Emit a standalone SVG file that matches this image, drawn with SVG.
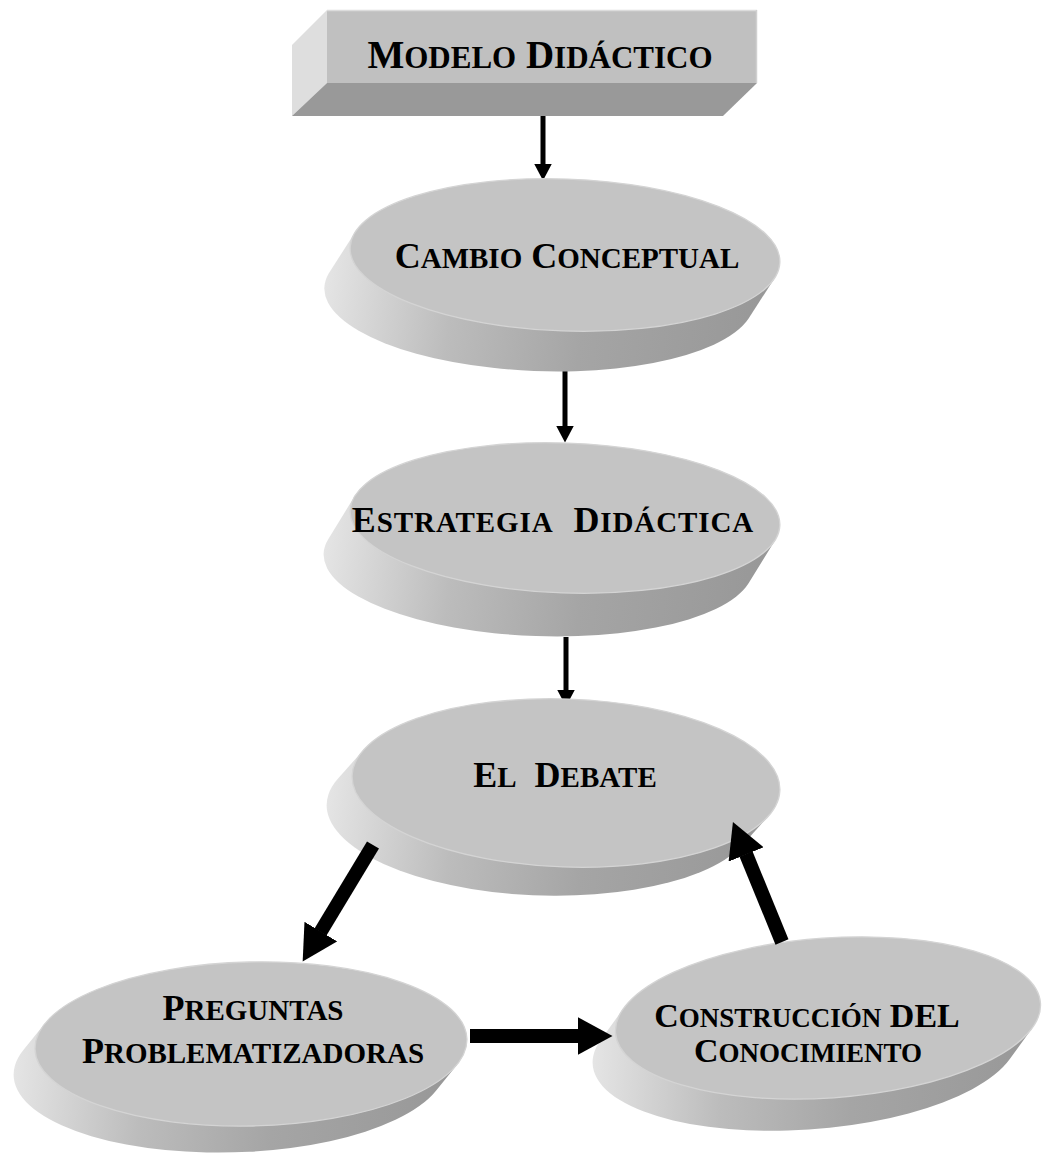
<svg xmlns="http://www.w3.org/2000/svg" width="1048" height="1154" viewBox="0 0 1048 1154">
<style>
.lbl{font-family:"Liberation Serif","Times New Roman",serif;font-weight:bold;font-size:36px;fill:#000;text-anchor:middle}
.s{font-size:29px}
.top{fill:#c4c4c4;stroke:#d4d4d4;stroke-width:1.3}
.ext{fill:url(#extG)}
.thin{stroke:#000;stroke-width:5;fill:none;marker-end:url(#headThin)}
.thick{stroke:#000;stroke-width:14;fill:none;marker-end:url(#headThick)}
</style>
<defs>
<linearGradient id="extG" gradientUnits="userSpaceOnUse" x1="-240" y1="0" x2="200" y2="40">
<stop offset="0" stop-color="#e6e6e6"/>
<stop offset="0.3" stop-color="#bcbcbc"/>
<stop offset="0.6" stop-color="#a5a5a5"/>
<stop offset="1" stop-color="#989898"/>
</linearGradient>
<marker id="headThin" markerUnits="userSpaceOnUse" markerWidth="18" markerHeight="18" refX="0.5" refY="9" orient="auto">
<path d="M0,0 L17,9 L0,18 Z" fill="#000"/>
</marker>
<marker id="headThick" markerUnits="userSpaceOnUse" markerWidth="36" markerHeight="38" refX="0.5" refY="19" orient="auto">
<path d="M0,0 L35,19 L0,38 Z" fill="#000"/>
</marker>
</defs>
<rect width="1048" height="1154" fill="#fff"/>

<g id="connectors">
<line class="thin" x1="543" y1="109" x2="543" y2="164"/>
<line class="thin" x1="565" y1="370" x2="565" y2="426"/>
<line class="thin" x1="566" y1="637" x2="566" y2="690"/>
</g>

<g id="n-modelo">
<polygon points="327,10 292,45 292,116 327,83" fill="#dedede"/>
<polygon points="327,83 757,83 723,116 292,116" fill="#999999"/>
<rect x="327" y="10" width="430" height="73" fill="#c0c0c0"/>
<line x1="327" y1="10.5" x2="757" y2="10.5" stroke="#dcdcdc" stroke-width="1.5"/>
<line x1="756.5" y1="10" x2="756.5" y2="83" stroke="#d0d0d0" stroke-width="1.5"/>
<text class="lbl" x="540" y="68" style="font-size:39px"><tspan>M</tspan><tspan style="font-size:31px">ODELO</tspan> <tspan>D</tspan><tspan style="font-size:31px">IDÁCTICO</tspan></text>
</g>

<g id="n-cambio">
<g transform="translate(565,255) rotate(2)">
<path class="ext" d="M-210.4,-15.6 L-235.4,26.4 A215 76 0 0 0 185.4,57.6 L210.4,15.6 Z"/>
<ellipse class="top" rx="215" ry="76"/>
</g>
<text class="lbl" x="567" y="268"><tspan>C</tspan><tspan class="s">AMBIO</tspan> <tspan>C</tspan><tspan class="s">ONCEPTUAL</tspan></text>
</g>

<g id="n-estrategia">
<g transform="translate(565,518) rotate(2)">
<path class="ext" d="M-210.9,-14.6 L-235.9,29.4 A215 75 0 0 0 185.9,58.6 L210.9,14.6 Z"/>
<ellipse class="top" rx="215" ry="75"/>
</g>
<text class="lbl" x="553" y="532" xml:space="preserve" style="letter-spacing:0.9px"><tspan>E</tspan><tspan class="s">STRATEGIA</tspan>  <tspan>D</tspan><tspan class="s">IDÁCTICA</tspan></text>
</g>

<g id="n-debate">
<g transform="translate(566,783) rotate(2)">
<path class="ext" d="M-203.4,-26.1 L-228.4,3.9 A214 84 0 0 0 178.4,56.1 L203.4,26.1 Z"/>
<ellipse class="top" rx="214" ry="84"/>
</g>
<text class="lbl" x="565" y="787" xml:space="preserve"><tspan>E</tspan><tspan class="s">L</tspan>  <tspan>D</tspan><tspan class="s">EBATE</tspan></text>
</g>

<g id="n-preguntas">
<g transform="translate(251,1044) rotate(-1.3)">
<path class="ext" d="M-205.7,-25.1 L-227.7,0.9 A216 82 0 0 0 183.7,51.1 L205.7,25.1 Z"/>
<ellipse class="top" rx="216" ry="82"/>
</g>
<text class="lbl" x="253" y="1020"><tspan>P</tspan><tspan class="s">REGUNTAS</tspan></text>
<text class="lbl" x="253" y="1063"><tspan>P</tspan><tspan class="s">ROBLEMATIZADORAS</tspan></text>
</g>

<g id="n-construccion">
<g transform="translate(828,1018) rotate(-4)">
<path class="ext" d="M-203.3,-23.9 L-228.3,6.1 A213 80 0 0 0 178.3,53.9 L203.3,23.9 Z"/>
<ellipse class="top" rx="213" ry="80"/>
</g>
<text class="lbl" x="807" y="1027" style="font-size:34px"><tspan>C</tspan><tspan style="font-size:27px">ONSTRUCCIÓN</tspan> DEL</text>
<text class="lbl" x="808" y="1062" style="font-size:34px"><tspan>C</tspan><tspan style="font-size:27px">ONOCIMIENTO</tspan></text>
</g>

<g id="connectors-thick">
<line class="thick" x1="373" y1="845" x2="320.5" y2="932"/>
<line class="thick" x1="782" y1="942" x2="746" y2="854"/>
<line class="thick" x1="470" y1="1036" x2="578" y2="1036"/>
</g>
</svg>
